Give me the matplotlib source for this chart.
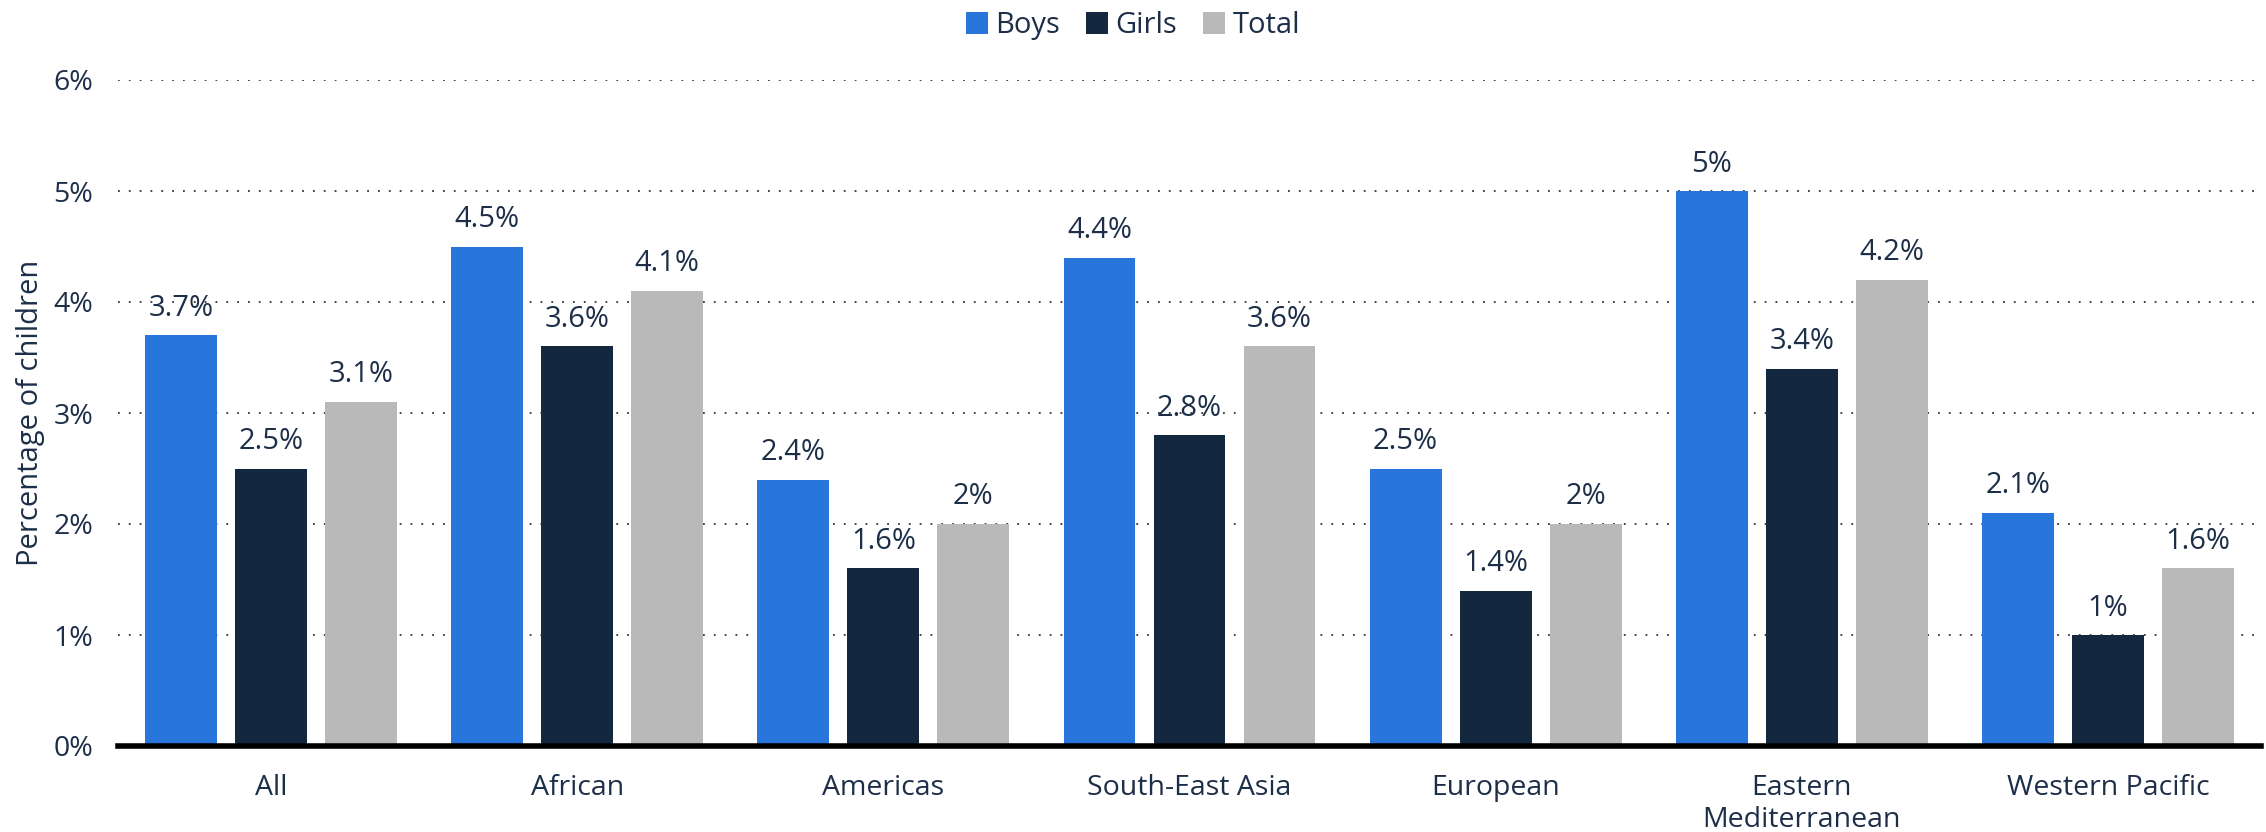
import numpy as np
import matplotlib
matplotlib.use("Agg")
import matplotlib.pyplot as plt

# data
categories = ["All", "African", "Americas", "South-East Asia", "European",
              "Eastern\nMediterranean", "Western Pacific"]
boys = [3.7, 4.5, 2.4, 4.4, 2.5, 5, 2.1]
girls = [2.5, 3.6, 1.6, 2.8, 1.4, 3.4, 1]
total = [3.1, 4.1, 2, 3.6, 2, 4.2, 1.6]
series_names = ["Boys", "Girls", "Total"]
y_ticks = [0, 1, 2, 3, 4, 5, 6]

colors = ["#2875dc", "#13283f", "#b9b9b9"]
text_col = "#1d2f48"

plt.rcParams['font.family'] = ['Open Sans', 'DejaVu Sans']

fig = plt.figure(figsize=(22.66, 8.32), dpi=100)
ax = fig.add_axes([118 / 2266, 86 / 832, 2143 / 2266, 666 / 832])

x = np.arange(len(categories))
width = 0.235
step = 0.294
for i, (vals, name) in enumerate(zip([boys, girls, total], series_names)):
    bars = ax.bar(x + (i - 1) * step, vals, width, color=colors[i], label=name, zorder=3)
    for b, v in zip(bars, vals):
        ax.annotate(f"{v:g}%", (b.get_x() + b.get_width() / 2, v),
                    xytext=(0, 9), textcoords="offset points",
                    ha="center", va="bottom", fontsize=21, color=text_col, zorder=4)

ax.set_xlim(-0.5, 6.5)
ax.set_ylim(0, 6)
ax.set_yticks(y_ticks)
ax.set_yticklabels([f"{t}%" for t in y_ticks])
ax.set_xticks(x)
ax.set_xticklabels(categories, linespacing=1.2)
ax.tick_params(axis="both", length=0, labelsize=20.5, labelcolor=text_col)
ax.tick_params(axis="x", pad=20)
ax.tick_params(axis="y", pad=18)

ax.grid(axis="y", linestyle=(0, (1, 5)), color="#333333", linewidth=1.3, zorder=0)
for s in ["top", "right", "left"]:
    ax.spines[s].set_visible(False)
ax.spines["bottom"].set_linewidth(4)
ax.spines["bottom"].set_color("black")
ax.spines["bottom"].set_zorder(5)

ax.set_ylabel("Percentage of children", fontsize=21, color=text_col, labelpad=6)

leg = fig.legend(loc="upper center", bbox_to_anchor=(0.5, 1.018), ncol=3, frameon=False,
                 fontsize=21, handlelength=0.75, handleheight=0.75, handletextpad=0.25,
                 columnspacing=0.9)
for t in leg.get_texts():
    t.set_color(text_col)

fig.savefig("out.png", dpi=100)
